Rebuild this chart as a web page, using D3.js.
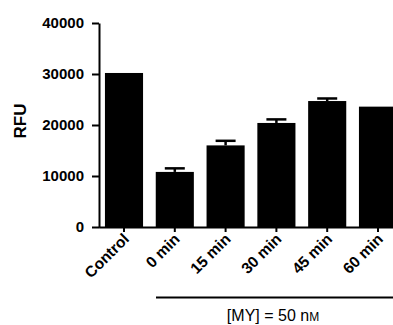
<!DOCTYPE html>
<html>
<head>
<meta charset="utf-8">
<script src="https://cdn.jsdelivr.net/npm/d3@7"></script>
<style>
  html, body { margin: 0; padding: 0; background: #fff; }
  .chart svg { display: block; }
  text { font-family: "Liberation Sans", Arial, sans-serif; fill: #000; }
  .axis text { font-weight: bold; }
  .y.axis text { font-size: 15px; }
  .x.axis text { font-size: 15.5px; }
  .axis path, .axis line { stroke: #000; stroke-width: 2px; }
</style>
</head>
<body>
<div class="chart"></div>
<script>
// data
const categories = ['Control', '0 min', '15 min', '30 min', '45 min', '60 min'];
const rfu = [30200, 10800, 16000, 20400, 24700, 23600];
const rfuErr = [0, 700, 900, 700, 500, 0];
const yTicks = [0, 10000, 20000, 30000, 40000];

d3.selection.prototype.rfuBars = function init() {
    function createChart(el) {
        const $sel = d3.select(el);
        let $svg = null;
        let $vis = null;

        const width = 393;
        const height = 325;

        // scales
        const xScale = d3.scaleBand()
            .domain(categories)
            .range([98.6, 403.4])
            .paddingInner(0.25)
            .paddingOuter(0.125);
        const yScale = d3.scaleLinear()
            .domain([0, 40000])
            .range([227, 23]);

        const Chart = {
            init() {
                $svg = $sel.append('svg')
                    .attr('width', width)
                    .attr('height', height);
                $vis = $svg.append('g').attr('class', 'g-vis');
                Chart.render();
            },
            render() {
                const data = categories.map((c, i) => ({ cat: c, val: rfu[i], err: rfuErr[i] }));

                // bars
                $vis.selectAll('.bar')
                    .data(data)
                    .join('rect')
                    .attr('class', 'bar')
                    .attr('x', d => xScale(d.cat))
                    .attr('width', xScale.bandwidth())
                    .attr('y', d => yScale(d.val))
                    .attr('height', d => yScale(0) - yScale(d.val))
                    .attr('fill', '#000');

                // error bars (upper half only, the lower half is hidden in the bar)
                const withErr = data.filter(d => d.err > 0);
                const cx = d => xScale(d.cat) + xScale.bandwidth() / 2;
                $vis.selectAll('.err')
                    .data(withErr)
                    .join('line')
                    .attr('class', 'err')
                    .attr('x1', cx).attr('x2', cx)
                    .attr('y1', d => yScale(d.val))
                    .attr('y2', d => yScale(d.val + d.err))
                    .attr('stroke', '#000')
                    .attr('stroke-width', 2.5);
                $vis.selectAll('.cap')
                    .data(withErr)
                    .join('line')
                    .attr('class', 'cap')
                    .attr('x1', d => cx(d) - 10).attr('x2', d => cx(d) + 10)
                    .attr('y1', d => yScale(d.val + d.err))
                    .attr('y2', d => yScale(d.val + d.err))
                    .attr('stroke', '#000')
                    .attr('stroke-width', 2.5);

                // y axis
                const yAxis = d3.axisLeft(yScale)
                    .tickValues(yTicks)
                    .tickFormat(d3.format('d'))
                    .tickSize(7)
                    .tickSizeOuter(0)
                    .tickPadding(8);
                $svg.append('g')
                    .attr('class', 'y axis')
                    .attr('transform', 'translate(99,0)')
                    .call(yAxis);

                // x axis
                const xAxis = d3.axisBottom(xScale)
                    .tickSize(5)
                    .tickSizeOuter(0);
                const xg = $svg.append('g')
                    .attr('class', 'x axis')
                    .attr('transform', 'translate(0,227)')
                    .call(xAxis);
                xg.selectAll('.tick text')
                    .attr('text-anchor', 'end')
                    .attr('dy', null)
                    .attr('y', 0)
                    .attr('transform', 'translate(6,13) rotate(-45)');

                // y title
                $svg.append('text')
                    .attr('transform', 'translate(26,121) rotate(-90)')
                    .attr('text-anchor', 'middle')
                    .style('font-weight', 'bold')
                    .style('font-size', '17px')
                    .text('RFU');

                // treatment bracket
                $svg.append('line')
                    .attr('x1', 156).attr('x2', 400)
                    .attr('y1', 297.5).attr('y2', 297.5)
                    .attr('stroke', '#000')
                    .attr('stroke-width', 2);
                const lab = $svg.append('text')
                    .attr('x', 273)
                    .attr('y', 321)
                    .attr('text-anchor', 'middle')
                    .style('font-size', '16px')
                    .text('[MY] = 50 n');
                lab.append('tspan')
                    .style('font-size', '12px')
                    .text('M');

                return Chart;
            },
        };
        Chart.init();
        return Chart;
    }

    const charts = this.nodes().map(createChart);
    return charts.length > 1 ? charts : charts.pop();
};

d3.select('.chart').rfuBars();
</script>
</body>
</html>
